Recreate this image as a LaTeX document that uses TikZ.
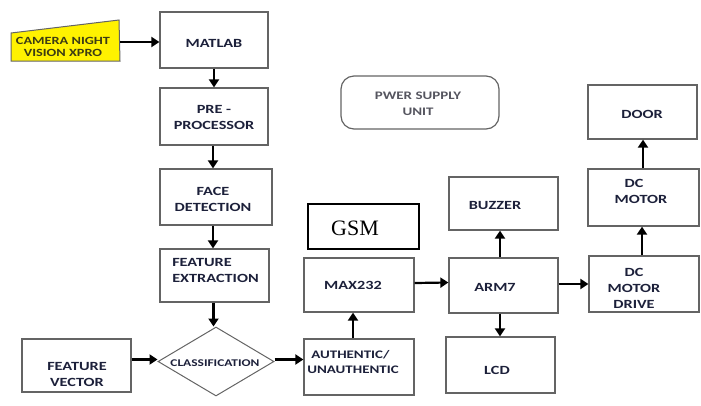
\documentclass[tikz,border=0pt]{standalone}
\usepackage{fontspec}
\newfontfamily\lab[FakeStretch=1.3]{Carlito}
\newfontfamily\gsmfont{Liberation Serif}
\usetikzlibrary{arrows.meta,shapes.geometric}
\definecolor{boxc}{RGB}{100,100,100}
\definecolor{txtc}{RGB}{28,32,58}
\definecolor{psuc}{RGB}{85,85,95}
\definecolor{camy}{RGB}{255,242,0}
\definecolor{camt}{RGB}{60,60,20}
\begin{document}
\begin{tikzpicture}[x=1pt,y=-1pt,
  box/.style={draw=boxc, line width=1.3pt, rectangle, inner sep=0pt},
  lbl/.style={text=txtc, font=\lab\bfseries\fontsize{12.5}{16}\selectfont, align=center, inner sep=0pt},
  conn/.style={line width=2.2pt, -{Triangle[width=10pt,length=8pt]}}]
\useasboundingbox (0,0) rectangle (701,405);
% camera
\path[fill=camy, draw=boxc, line width=1pt] (11,33) -- (119,20) -- (120,61) -- (11,61) -- cycle;
\node[inner sep=0pt, text=camt, font=\lab\bfseries\fontsize{11}{12}\selectfont, align=center] (camtx) at (63,47) {CAMERA NIGHT\\VISION XPRO};
\coordinate (cam) at (120,42);
% left column
\node[box, minimum width=108pt, minimum height=56pt] (matlab) at (214,40) {};
\node[lbl] (matlabt) at (214,43) {MATLAB};
\node[box, minimum width=108pt, minimum height=57pt] (pre) at (214,116.5) {};
\node[lbl] (pret) at (214,117) {PRE -\\PROCESSOR};
\node[box, minimum width=112pt, minimum height=56pt] (face) at (216,197) {};
\node[lbl] (facet) at (213,199) {FACE\\DETECTION};
\node[box, minimum width=109pt, minimum height=53pt] (feat) at (214.5,275.5) {};
\node[lbl, align=left] (featt) at (215.5,270) {FEATURE\\EXTRACTION};
\node[draw=boxc, line width=1pt, diamond, minimum width=116pt, minimum height=69pt, inner sep=0pt] (cls) at (216,361.5) {};
\node[lbl, font=\lab\bfseries\fontsize{10.3}{12}\selectfont] (clst) at (215,363) {CLASSIFICATION};
\node[box, minimum width=109pt, minimum height=53pt] (fv) at (76.5,365.5) {};
\node[lbl] (fvt) at (77,374) {FEATURE\\VECTOR};
% middle
\node[box, minimum width=110pt, minimum height=56pt] (auth) at (359,367) {};
\node[lbl, font=\lab\bfseries\fontsize{11.5}{15}\selectfont, align=left] (autht) at (353,362) {\hspace{4pt}AUTHENTIC/\\UNAUTHENTIC};
\node[box, minimum width=110pt, minimum height=54pt] (max) at (359,285) {};
\node[lbl] (maxt) at (353,285) {MAX232};
\node[draw=black, line width=2pt, rectangle, minimum width=111pt, minimum height=45pt, inner sep=0pt] (gsm) at (363.5,226.5) {};
\node[inner sep=0pt, font=\gsmfont\fontsize{22}{24}\selectfont] (gsmt) at (355,228) {GSM};
\node[draw=boxc, line width=1.2pt, rectangle, rounded corners=13pt, minimum width=158pt, minimum height=53pt, inner sep=0pt] (psu) at (420,102.5) {};
\node[inner sep=0pt, text=psuc, font=\lab\bfseries\fontsize{11.5}{16}\selectfont, align=center] (psut) at (418,103.5) {PWER SUPPLY\\UNIT};
% right
\node[box, minimum width=109pt, minimum height=53pt] (buz) at (503.5,203.5) {};
\node[lbl] (buzt) at (495,205) {BUZZER};
\node[box, minimum width=109pt, minimum height=55pt] (arm) at (503.5,285.5) {};
\node[lbl] (armt) at (495,287) {ARM7};
\node[box, minimum width=109pt, minimum height=56pt] (lcd) at (500.5,365) {};
\node[lbl] (lcdt) at (497,370) {LCD};
\node[box, minimum width=109pt, minimum height=54pt] (door) at (642.5,112) {};
\node[lbl] (doort) at (642,114) {DOOR};
\node[box, minimum width=111pt, minimum height=57pt] (dcm) at (643.5,197.5) {};
\node[lbl, align=left] (dcmt) at (641,191) {\hspace{10pt}DC\\MOTOR};
\node[box, minimum width=110pt, minimum height=56pt] (dcd) at (644,284) {};
\node[lbl] (dcdt) at (634,288) {DC\\MOTOR\\DRIVE};
% connectors
\draw[conn] (cam) -- (cam -| matlab.west);
\draw[conn] (matlab.south) -- (pre.north);
\draw[conn] ([xshift=-1pt]pre.south) -- ([xshift=-1pt]pre.south |- face.north);
\draw[conn] ([xshift=-1.5pt]feat.north |- face.south) -- ([xshift=-1.5pt]feat.north);
\draw[conn] ([xshift=-1pt]feat.south) -- ([xshift=-1pt]feat.south |- cls.north);
\draw[conn] ([yshift=2pt]cls.west -| fv.east) -- ([yshift=2pt]cls.west);
\draw[conn] ([yshift=2pt]cls.east) -- ([yshift=2pt]cls.east -| auth.west);
\draw[conn] ([xshift=-6pt]auth.north) -- ([xshift=-6pt]max.south);
\draw[conn] ([yshift=2pt]max.east) -- ([yshift=3pt]arm.west);
\draw[conn] ([xshift=-3.5pt]arm.north) -- ([xshift=-3.5pt]buz.south);
\draw[conn] ([xshift=-3.5pt]arm.south) -- ([xshift=-3.5pt]arm.south |- lcd.north);
\draw[conn] ([yshift=1.5pt]arm.east) -- ([yshift=1.5pt]arm.east -| dcd.west);
\draw[conn] ([xshift=-2pt]dcd.north) -- ([xshift=-1.5pt]dcm.south);
\draw[conn] ([xshift=-0.5pt]dcm.north) -- ([xshift=-0.5pt]dcm.north |- door.south);
\end{tikzpicture}
\end{document}
